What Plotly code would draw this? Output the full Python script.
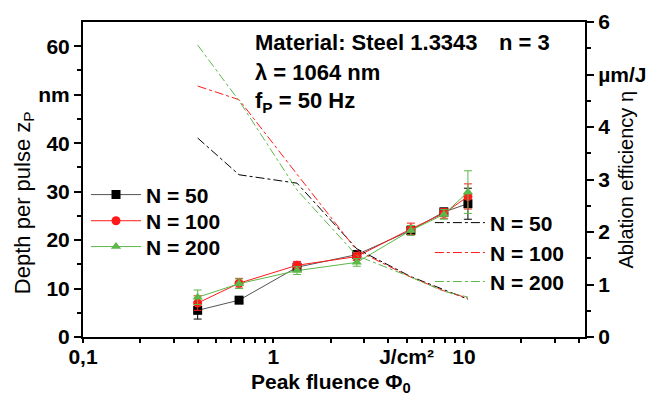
import plotly.graph_objects as go

# ---- data ----
fluence = [0.40, 0.66, 1.33, 2.74, 5.27, 7.85, 10.5]

depth_n50 = [5.5, 7.6, 14.4, 17.0, 22.0, 25.8, 27.5]
depth_n100 = [7.0, 11.1, 14.8, 16.6, 22.3, 25.5, 29.0]
depth_n200 = [8.2, 11.0, 13.7, 15.4, 22.0, 25.3, 29.9]

err_n50 = [1.8, 0.6, 0.8, 0.8, 0.9, 0.8, 3.2]
err_n100 = [1.5, 1.0, 0.8, 0.8, 1.2, 1.0, 2.6]
err_n200 = [1.5, 1.0, 0.8, 0.8, 1.0, 1.0, 4.4]

eff_n50 = [3.79, 3.09, 2.93, 1.68, 1.15, 0.90, 0.72]
eff_n100 = [4.78, 4.52, 3.10, 1.65, 1.14, 0.88, 0.74]
eff_n200 = [5.56, 4.50, 2.80, 1.55, 1.14, 0.87, 0.76]

labels = ["N = 50", "N = 100", "N = 200"]

x_tickvals = [0.1, 1, 5, 10]
x_ticktext = ["0,1", "1", "J/cm²", "10"]
y_tickvals = [0, 10, 20, 30, 40, 50, 60]
y_ticktext = ["0", "10", "20", "30", "40", "nm", "60"]
y2_tickvals = [0, 1, 2, 3, 4, 5, 6]
y2_ticktext = ["0", "1", "2", "3", "4", "µm/J", "6"]

BLACK = "#000000"
RED = "#ff1a1a"
GREEN = "#5cb84a"
FONT = "Liberation Sans, Arial, sans-serif"

fig = go.Figure()

depth_sets = [(depth_n50, err_n50, BLACK, "square", "#555555"),
              (depth_n100, err_n100, RED, "circle", RED),
              (depth_n200, err_n200, GREEN, "triangle-up", GREEN)]
for i, ((d, e, c, sym, lc), name) in enumerate(zip(depth_sets, labels)):
    fig.add_trace(go.Scatter(
        x=fluence, y=d, name=name, mode="lines+markers",
        line=dict(color=lc, width=1),
        marker=dict(color=c, symbol=sym, size=9),
        error_y=dict(type="data", array=e, color=c, thickness=1, width=4),
        legend="legend" if i == 0 else f"legend{i + 1}",
    ))

for i, (eff, c, name) in enumerate(zip([eff_n50, eff_n100, eff_n200],
                                       [BLACK, RED, GREEN], labels)):
    fig.add_trace(go.Scatter(
        x=fluence, y=eff, name=name, mode="lines", yaxis="y2",
        line=dict(color=c, width=1, dash="dashdot"),
        legend=f"legend{i + 4}",
    ))

tickfont = dict(family=FONT, size=21, color="black", weight="bold")
legfont = dict(family=FONT, size=21, color="black", weight="bold")


def leg(x, y):
    return dict(x=x, y=y, xanchor="left", yanchor="middle",
                bgcolor="rgba(0,0,0,0)", borderwidth=0,
                itemwidth=50, font=legfont)


fig.update_layout(
    template="none",
    width=648, height=405,
    margin=dict(l=83, r=63, t=22, b=68, autoexpand=False),
    paper_bgcolor="white", plot_bgcolor="white",
    font=dict(family=FONT, color="black"),
    xaxis=dict(
        type="log", range=[-1, 1.636], automargin=False,
        tickmode="array", tickvals=x_tickvals, ticktext=x_ticktext,
        ticks="outside", ticklen=4, tickwidth=1.5, tickcolor="black",
        ticklabelstandoff=-4,
        showline=True, linecolor="black", linewidth=2, mirror=True,
        showgrid=False, zeroline=False, tickfont=tickfont,
        minor=dict(tickmode="array",
                   tickvals=[0.2, 0.3, 0.4, 0.5, 0.6, 0.7, 0.8, 0.9,
                             2, 3, 4, 6, 7, 8, 9, 20, 30, 40],
                   ticks="outside", ticklen=4, tickwidth=1.5, tickcolor="black",
                   showgrid=False),
    ),
    yaxis=dict(
        range=[0, 65], automargin=False,
        tickmode="array", tickvals=y_tickvals, ticktext=y_ticktext,
        ticks="outside", ticklen=7, tickwidth=1.5, tickcolor="black",
        showline=True, linecolor="black", linewidth=2,
        showgrid=False, zeroline=False, tickfont=tickfont,
        minor=dict(tickmode="array", tickvals=[5, 15, 25, 35, 45, 55],
                   ticks="outside", ticklen=4, tickwidth=1.5, tickcolor="black",
                   showgrid=False),
    ),
    yaxis2=dict(
        range=[0, 6], overlaying="y", side="right", automargin=False,
        tickmode="array", tickvals=y2_tickvals, ticktext=y2_ticktext,
        ticks="outside", ticklen=7, tickwidth=1.5, tickcolor="black",
        showline=True, linecolor="black", linewidth=2,
        showgrid=False, zeroline=False, tickfont=tickfont,
        minor=dict(tickmode="array", tickvals=[0.5, 1.5, 2.5, 3.5, 4.5, 5.5],
                   ticks="outside", ticklen=4, tickwidth=1.5, tickcolor="black",
                   showgrid=False),
    ),
    legend=leg(0.006, 0.451),
    legend2=leg(0.006, 0.368),
    legend3=leg(0.006, 0.286),
    legend4=leg(0.691, 0.362),
    legend5=leg(0.691, 0.267),
    legend6=leg(0.691, 0.175),
    showlegend=True,
)

ann_font = dict(family=FONT, size=22, color="black", weight="bold")
fig.add_annotation(text="Material: Steel 1.3343", x=0.3386, y=0.9365,
                   xref="paper", yref="paper", xanchor="left", yanchor="middle",
                   showarrow=False, font=ann_font)
fig.add_annotation(text="n = 3", x=0.934, y=0.9365,
                   xref="paper", yref="paper", xanchor="right", yanchor="middle",
                   showarrow=False, font=ann_font)
fig.add_annotation(text="λ = 1064 nm", x=0.3386, y=0.841,
                   xref="paper", yref="paper", xanchor="left", yanchor="middle",
                   showarrow=False, font=ann_font)
fig.add_annotation(text="f<sub>P</sub> = 50 Hz", x=0.3386, y=0.745,
                   xref="paper", yref="paper", xanchor="left", yanchor="middle",
                   showarrow=False, font=ann_font)

fig.add_annotation(text="Depth per pulse z<sub>P</sub>", x=-0.1175, y=0.425,
                   xref="paper", yref="paper", xanchor="center", yanchor="middle",
                   textangle=-90, showarrow=False,
                   font=dict(family=FONT, size=22, color="black"))
fig.add_annotation(text="Ablation efficiency η", x=1.0797, y=0.5,
                   xref="paper", yref="paper", xanchor="center", yanchor="middle",
                   textangle=-90, showarrow=False,
                   font=dict(family=FONT, size=20, color="black"))
fig.add_annotation(text="Peak fluence Φ<sub>0</sub>", x=0.494, y=-0.145,
                   xref="paper", yref="paper", xanchor="center", yanchor="middle",
                   showarrow=False,
                   font=dict(family=FONT, size=21, color="black", weight="bold"))

fig.write_html("out.html",
               config={"displayModeBar": False},
               post_script="document.body.style.margin='0px';")
